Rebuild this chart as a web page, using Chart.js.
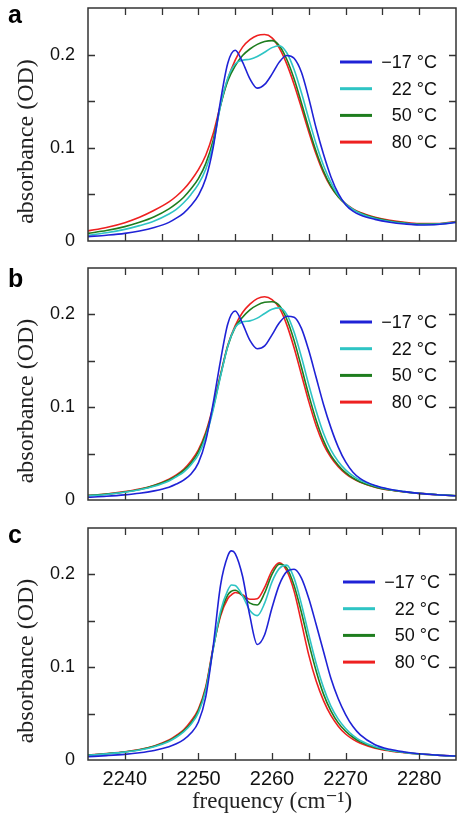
<!DOCTYPE html>
<html><head><meta charset="utf-8">
<script src="https://cdn.jsdelivr.net/npm/chart.js@4"></script>
<style>
html,body{margin:0;padding:0;background:#fff;}
#wrap{position:relative;width:463px;height:824px;overflow:hidden;}
canvas{position:absolute;left:0;}
</style></head><body>
<div id="wrap">
<canvas id="ca" width="463" height="250" style="top:0px;width:463px;height:250px"></canvas>
<canvas id="cb" width="463" height="255" style="top:255px;width:463px;height:255px"></canvas>
<canvas id="cc" width="463" height="309" style="top:515px;width:463px;height:309px"></canvas>
</div>
<script>
// ---------- data ----------
const temperatureLabels = ['\u221217 \u00B0C', '22 \u00B0C', '50 \u00B0C', '80 \u00B0C'];
const panelLetters = ['a', 'b', 'c'];
const xAxisTitle = 'frequency (cm\u207B\u00B9)';
const yAxisTitle = 'absorbance (OD)';

const freqAB = [2235, 2237.5, 2240, 2242, 2244, 2246, 2247, 2248, 2249, 2250, 2251, 2252, 2253, 2254, 2255, 2256, 2257, 2258, 2259, 2260, 2261, 2262, 2263, 2264, 2265, 2266, 2267, 2268, 2269, 2270, 2271, 2272, 2274, 2276, 2278, 2280, 2282.5, 2285];
const freqC = [2235, 2237.5, 2240, 2242, 2244, 2246, 2247, 2248, 2249, 2250, 2251, 2252, 2253, 2254, 2254.5, 2255, 2256, 2257, 2258, 2259, 2260, 2261, 2262, 2263, 2264, 2265, 2266, 2267, 2268, 2269, 2270, 2271, 2272, 2274, 2276, 2278, 2280, 2282.5, 2285];

// panel a
const aMinus17 = [0.0047, 0.0062, 0.0082, 0.0108, 0.0145, 0.020, 0.0245, 0.030, 0.038, 0.049, 0.067, 0.100, 0.150, 0.191, 0.2046, 0.192, 0.174, 0.164, 0.168, 0.179, 0.192, 0.199, 0.196, 0.181, 0.153, 0.121, 0.093, 0.069, 0.051, 0.039, 0.032, 0.0278, 0.0232, 0.0202, 0.0183, 0.0172, 0.0177, 0.0198];
const a22 = [0.0061, 0.0088, 0.0125, 0.0165, 0.0215, 0.029, 0.034, 0.041, 0.050, 0.061, 0.077, 0.103, 0.145, 0.175, 0.190, 0.194, 0.195, 0.198, 0.2025, 0.2075, 0.2095, 0.202, 0.184, 0.159, 0.131, 0.104, 0.081, 0.063, 0.049, 0.040, 0.034, 0.0295, 0.0242, 0.021, 0.019, 0.0177, 0.0181, 0.0202];
const a50 = [0.0082, 0.0112, 0.0154, 0.020, 0.026, 0.0345, 0.040, 0.047, 0.056, 0.067, 0.083, 0.108, 0.145, 0.172, 0.188, 0.199, 0.206, 0.211, 0.214, 0.215, 0.2095, 0.195, 0.174, 0.148, 0.121, 0.096, 0.075, 0.059, 0.0475, 0.0395, 0.034, 0.030, 0.0248, 0.0215, 0.0194, 0.0181, 0.0184, 0.0204];
const a80 = [0.0108, 0.0145, 0.0197, 0.0255, 0.033, 0.042, 0.048, 0.0555, 0.065, 0.0765, 0.092, 0.115, 0.146, 0.174, 0.194, 0.208, 0.216, 0.2205, 0.2215, 0.218, 0.207, 0.190, 0.168, 0.143, 0.117, 0.093, 0.073, 0.058, 0.0475, 0.040, 0.0345, 0.0305, 0.0255, 0.0222, 0.020, 0.0187, 0.0188, 0.021];

// panel b
const bMinus17 = [0.0029, 0.004, 0.0055, 0.0072, 0.0098, 0.0138, 0.0172, 0.0215, 0.028, 0.040, 0.064, 0.104, 0.150, 0.190, 0.2036, 0.190, 0.172, 0.163, 0.166, 0.178, 0.191, 0.198, 0.197, 0.185, 0.161, 0.132, 0.103, 0.078, 0.057, 0.041, 0.030, 0.023, 0.0155, 0.0115, 0.009, 0.0071, 0.0056, 0.0046];
const b22 = [0.0045, 0.006, 0.0083, 0.011, 0.0148, 0.0205, 0.025, 0.030, 0.038, 0.049, 0.068, 0.097, 0.133, 0.166, 0.186, 0.192, 0.193, 0.196, 0.201, 0.2055, 0.207, 0.200, 0.181, 0.154, 0.124, 0.096, 0.072, 0.054, 0.0415, 0.0325, 0.026, 0.0212, 0.015, 0.0113, 0.009, 0.0072, 0.0057, 0.0046];
const b50 = [0.0048, 0.0063, 0.0087, 0.0114, 0.0155, 0.0215, 0.026, 0.032, 0.040, 0.052, 0.071, 0.099, 0.134, 0.166, 0.186, 0.197, 0.205, 0.210, 0.213, 0.2137, 0.2095, 0.195, 0.172, 0.143, 0.113, 0.086, 0.064, 0.048, 0.0375, 0.0295, 0.0237, 0.0195, 0.014, 0.0108, 0.0088, 0.0071, 0.0057, 0.0046];
const b80 = [0.005, 0.0065, 0.009, 0.0118, 0.016, 0.0225, 0.027, 0.033, 0.042, 0.054, 0.073, 0.101, 0.135, 0.167, 0.188, 0.202, 0.211, 0.217, 0.219, 0.216, 0.207, 0.189, 0.164, 0.135, 0.106, 0.080, 0.060, 0.046, 0.036, 0.0285, 0.023, 0.019, 0.0138, 0.0107, 0.0087, 0.0071, 0.0057, 0.0046];

// panel c
const cMinus17 = [0.0036, 0.0047, 0.0061, 0.0078, 0.0103, 0.0143, 0.0175, 0.022, 0.029, 0.041, 0.068, 0.122, 0.188, 0.220, 0.2253, 0.2225, 0.198, 0.155, 0.1245, 0.135, 0.164, 0.189, 0.203, 0.2055, 0.196, 0.174, 0.146, 0.117, 0.088, 0.066, 0.049, 0.036, 0.027, 0.0165, 0.0115, 0.0087, 0.0067, 0.0053, 0.0043];
const c22 = [0.005, 0.0066, 0.0085, 0.0107, 0.0143, 0.020, 0.0245, 0.0303, 0.0385, 0.051, 0.075, 0.119, 0.160, 0.183, 0.1885, 0.188, 0.177, 0.161, 0.1556, 0.169, 0.192, 0.2065, 0.210, 0.196, 0.168, 0.135, 0.104, 0.078, 0.058, 0.044, 0.034, 0.0265, 0.021, 0.0142, 0.0105, 0.0082, 0.0065, 0.0052, 0.0043];
const c50 = [0.0052, 0.0068, 0.0087, 0.011, 0.0148, 0.0208, 0.0255, 0.0315, 0.040, 0.053, 0.077, 0.120, 0.157, 0.178, 0.182, 0.183, 0.177, 0.169, 0.167, 0.180, 0.200, 0.211, 0.207, 0.188, 0.159, 0.126, 0.096, 0.071, 0.053, 0.040, 0.031, 0.0245, 0.0195, 0.0135, 0.0102, 0.008, 0.0065, 0.0052, 0.0043];
const c80 = [0.0054, 0.007, 0.0089, 0.0113, 0.0152, 0.0215, 0.0265, 0.0325, 0.042, 0.055, 0.079, 0.121, 0.155, 0.174, 0.178, 0.1805, 0.178, 0.1732, 0.1738, 0.186, 0.204, 0.2124, 0.204, 0.182, 0.148, 0.113, 0.085, 0.064, 0.048, 0.0365, 0.028, 0.0222, 0.018, 0.0128, 0.0098, 0.0078, 0.0064, 0.0052, 0.0043];

// ---------- styles ----------
const lineColors = ['#1f22d6', '#2ec4c4', '#1e7d1e', '#ee2020'];
const SANS = '"Liberation Sans", Arial, Helvetica, sans-serif';
const SERIF = '"Liberation Serif", "Times New Roman", "DejaVu Serif", serif';

const framePlugin = {
  id: 'frame',
  afterDraw(chart, args, o) {
    const ctx = chart.ctx, a = chart.chartArea, xs = chart.scales.x, ys = chart.scales.y;
    ctx.save();
    ctx.strokeStyle = '#333';
    ctx.lineWidth = 1.5;
    ctx.strokeRect(a.left, a.top, a.right - a.left, a.bottom - a.top);
    ctx.lineWidth = 1.3;
    ctx.beginPath();
    xs.ticks.forEach(t => {
      if (t.value <= xs.min + 1e-9 || t.value >= xs.max - 1e-9) return;
      const px = Math.round(xs.getPixelForValue(t.value)) + 0.5;
      ctx.moveTo(px, a.top); ctx.lineTo(px, a.top + 7);
      ctx.moveTo(px, a.bottom); ctx.lineTo(px, a.bottom - 7);
    });
    ys.ticks.forEach(t => {
      if (t.value <= ys.min + 1e-9 || t.value >= ys.max - 1e-9) return;
      const py = Math.round(ys.getPixelForValue(t.value)) + 0.5;
      ctx.moveTo(a.left, py); ctx.lineTo(a.left + 7, py);
      ctx.moveTo(a.right, py); ctx.lineTo(a.right - 7, py);
    });
    ctx.stroke();

    // y-axis title
    ctx.fillStyle = '#222';
    ctx.font = '24px ' + SERIF;
    ctx.textAlign = 'center';
    ctx.textBaseline = 'middle';
    ctx.save();
    ctx.translate(27, (a.top + a.bottom) / 2 + 17);
    ctx.rotate(-Math.PI / 2);
    ctx.fillText(yAxisTitle, 0, 0);
    ctx.restore();

    // panel letter
    ctx.font = 'bold 25px ' + SANS;
    ctx.textAlign = 'left';
    ctx.textBaseline = 'alphabetic';
    ctx.fillStyle = '#000';
    ctx.fillText(o.letter, 8, a.top + o.letterDy);

    // legend
    chart.data.datasets.forEach((ds, i) => {
      const yy = a.top + 54 + i * 26.7;
      ctx.strokeStyle = ds.borderColor;
      ctx.lineWidth = 3;
      ctx.beginPath();
      ctx.moveTo(340 + o.legendDx, yy); ctx.lineTo(372 + o.legendDx, yy);
      ctx.stroke();
      ctx.fillStyle = '#111';
      ctx.font = '18px ' + SANS;
      ctx.textAlign = 'right';
      ctx.textBaseline = 'middle';
      ctx.fillText(ds.label, 437 + o.legendDx, yy + 1);
    });
    ctx.restore();
  }
};

function makePanel(canvasId, freq, series, opt) {
  const datasets = series.map((vals, i) => ({
    label: temperatureLabels[i],
    data: freq.map((f, k) => ({ x: f, y: vals[k] })),
    borderColor: lineColors[i],
    borderWidth: 1.6,
    pointRadius: 0,
    fill: false,
    cubicInterpolationMode: 'monotone'
  }));
  return new Chart(document.getElementById(canvasId), {
    type: 'line',
    data: { datasets },
    options: {
      responsive: false,
      animation: false,
      events: [],
      layout: { padding: { left: 0, right: 7, top: opt.top, bottom: opt.bottom } },
      scales: {
        x: {
          type: 'linear', min: 2235, max: 2285,
          grid: { display: false, drawTicks: false },
          border: { display: false },
          ticks: {
            display: opt.showX, stepSize: 5, autoSkip: false, maxRotation: 0, minRotation: 0,
            padding: 7, color: '#111', font: { family: SANS, size: 20 },
            callback: v => (Math.round(v) % 10 === 0 ? String(v) : '')
          },
          title: {
            display: opt.showX, text: xAxisTitle, color: '#222',
            font: { family: SERIF, size: 23 }, padding: { top: 0, bottom: 8 }
          },
          afterFit: s => { s.height = opt.xh; s.paddingLeft = 0; s.paddingRight = 0; }
        },
        y: {
          min: 0, max: 0.25,
          grid: { display: false, drawTicks: false },
          border: { display: false },
          ticks: {
            stepSize: 0.05, padding: 13, color: '#111', font: { family: SANS, size: 18 },
            callback: v => { const r = Math.round(v * 100); return r === 0 ? '0' : (r % 10 === 0 ? (r / 100).toFixed(1) : ''); }
          },
          afterFit: s => { s.width = 88; s.paddingTop = 0; s.paddingBottom = 0; }
        }
      },
      plugins: {
        legend: { display: false },
        tooltip: { enabled: false },
        frame: { letter: opt.letter, letterDy: opt.letterDy, legendDx: opt.legendDx }
      }
    },
    plugins: [framePlugin]
  });
}

makePanel('ca', freqAB, [aMinus17, a22, a50, a80], { top: 8, bottom: 9, xh: 0, showX: false, letter: panelLetters[0], letterDy: 15, legendDx: 0 });
makePanel('cb', freqAB, [bMinus17, b22, b50, b80], { top: 13, bottom: 10, xh: 0, showX: false, letter: panelLetters[1], letterDy: 19, legendDx: 0 });
makePanel('cc', freqC, [cMinus17, c22, c50, c80], { top: 13, bottom: 0, xh: 64, showX: true, letter: panelLetters[2], letterDy: 15, legendDx: 3 });
</script>
</body></html>
